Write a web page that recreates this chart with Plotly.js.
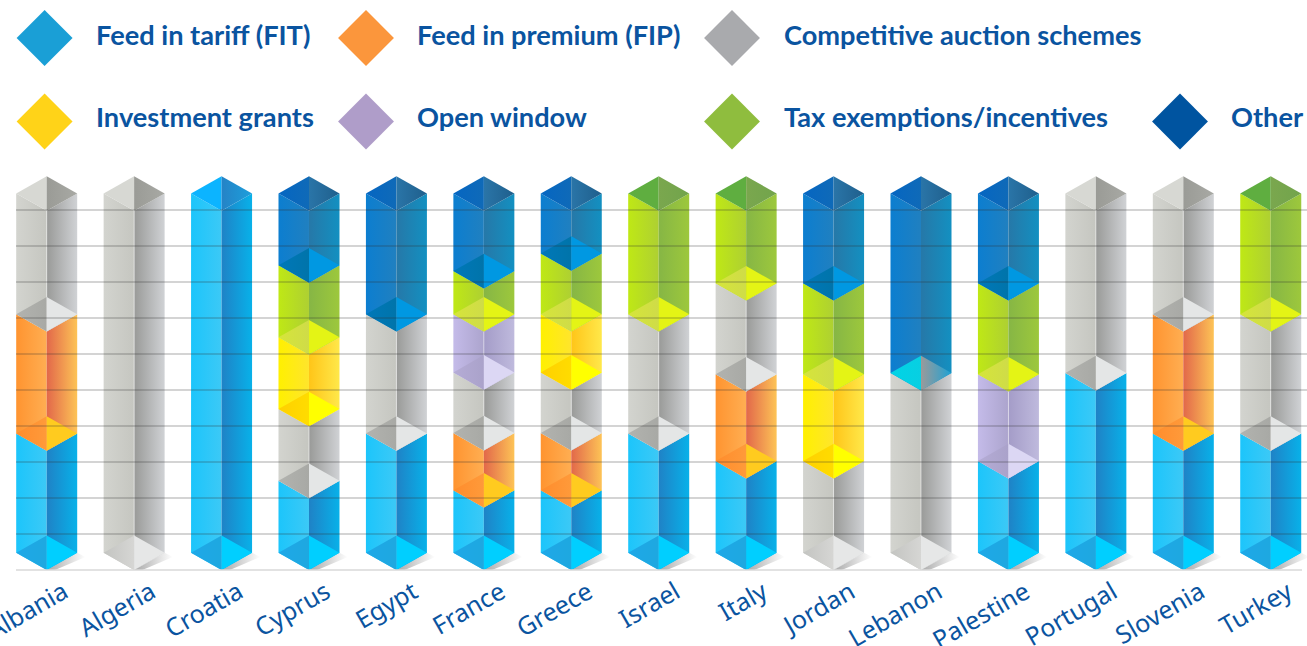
<!DOCTYPE html>
<html>
<head>
<meta charset="utf-8">
<script src="https://cdn.plot.ly/plotly-3.0.1.min.js"></script>
<style>html,body{margin:0;padding:0;background:#fff;overflow:hidden}#chart{width:1307px;height:646px}</style>
</head>
<body>
<div id="chart"></div>
<script>
// ---------- data (share of each support scheme) ----------
const categories = ["Albania","Algeria","Croatia","Cyprus","Egypt","France","Greece","Israel","Italy","Jordan","Lebanon","Palestine","Portugal","Slovenia","Turkey"];
const schemeNames = ["Feed in tariff (FIT)","Feed in premium (FIP)","Competitive auction schemes","Investment grants","Open window","Tax exemptions/incentives","Other"];
const fit        = [33.2,0,100,20,33.2,17.4,17.4,33.2,25.5,0,0,25.5,50,33.2,33.2];
const fip        = [33.2,0,0,0,0,15.9,15.9,0,24.2,0,0,0,0,33.2,0];
const auction    = [33.6,100,0,20,33.2,16.9,16.9,33.2,25.3,25.5,50,0,50,33.6,33.2];
const investment = [0,0,0,20,0,0,16.2,0,0,24.2,0,0,0,0,0];
const openWindow = [0,0,0,0,0,16.2,0,0,0,0,0,24.2,0,0,0];
const tax        = [0,0,0,20,0,12,16.9,33.6,25,25.3,0,25.3,0,0,33.6];
const other      = [0,0,0,20,33.6,21.6,16.7,0,0,25,50,25,0,0,0];
const gridPixels = [210,246,282,318,354,390,426,462,498,534];

// ---------- styles ----------
const legendColors = ["#1a9fd6","#fb963c","#a9aaad","#ffd318","#af9dc9","#8fbd3e","#0054a0"];
const styles = [
 {L:["#1cc5fb","#3cc9f6"],R:["#1f82c6","#08b1e9"],fL:["#1ea8e8","#1ea8e0"],fR:["#00cfff","#00cfff"],rL:["#0cb4ff","#0cb4ff"],rR:["#2583c6","#1c9fdc"]},
 {L:["#ff9430","#ffae52"],R:["#e2684a","#fdc356"],fL:["#ff8c2c","#ff9a3a"],fR:["#ffcb1f","#ffcb1f"],rL:["#ff8c2c","#ff8c2c"],rR:["#e2684a","#fdc356"]},
 {L:["#d3d4cf","#c5c6c0"],R:["#999a98","#d0d2d5"],fL:["#b2b3af","#a8a9a5"],fR:["#e4e6e6","#e4e6e6"],rL:["#d7d8d3","#d7d8d3"],rR:["#9a9b96","#a8a9a4"],seam:"rgba(255,255,255,0.55)"},
 {L:["#fff000","#ffe52c"],R:["#ffc518","#ffe84a"],fL:["#ffd000","#ffdc00"],fR:["#ffff00","#ffff00"],rL:["#ffd000","#ffd000"],rR:["#ffc518","#ffc518"]},
 {L:["#c4bbe9","#aca4cd"],R:["#a49cc8","#bfbadd"],fL:["#b5acd6","#aaa2ca"],fR:["#dcd7f4","#dcd7f4"],rL:["#b5acd6","#b5acd6"],rR:["#a49cc8","#a49cc8"],seam:"rgba(255,255,255,0.45)"},
 {L:["#bfe815","#aed032"],R:["#86b645","#9dc83c"],fL:["#d6e53a","#cfdc48"],fR:["#e4f415","#e4f415"],rL:["#5fae40","#5fae40"],rR:["#7aa74e","#72a44c"]},
 {L:["#0c7ed0","#2080c0"],R:["#2678a8","#1390c1"],fL:["#0078b9","#0074aa"],fR:["#0098e2","#0098e2"],rL:["#0566c2","#0f6ab8"],rR:["#2a75a8","#1f5f8c"]}
];
const baseAuctionFloor = {fL:["#c3c4c1","#d6d6d4"],fR:["#e6e7e7","#e6e7e7"]};
const lebanonFloor = {fL:["#00d4e6","#08cfe2"],fR:["#9a9a9a","#1ea2d4"]};

// ---------- full-canvas scales: pixel helpers only place the layout ----------
const W = 1307, H = 646, cx0 = 46.7, stepX = 87.43, y0 = 552.7, unit = 3.592;
const xRange = [-cx0/stepX, (W-cx0)/stepX];
const yRange = [(y0-H)/unit, y0/unit];
const pxX = p => (p-cx0)/stepX;
const pxY = p => (y0-p)/unit;
const hw = 30.5/stepX, d = 17.3/unit;

const series = [fit,fip,auction,investment,openWindow,tax,other];
const traces = [];
function poly(xs, ys, c){
  const t = {type:"scatter",mode:"lines",x:xs.concat(xs[0]),y:ys.concat(ys[0]),fill:"toself",
    line:{width:0,color:"rgba(0,0,0,0)"},hoverinfo:"skip",showlegend:false};
  if (c[0]===c[1]) t.fillcolor=c[0];
  else { t.fillcolor=c[0]; t.fillgradient={type:"horizontal",colorscale:[[0,c[0]],[1,c[1]]]}; }
  traces.push(t);
}
function diamond(i, v, cl, cr){
  poly([i-hw,i,i],[v,v+d,v-d],cl);
  poly([i,i+hw,i],[v+d,v,v-d],cr);
}
categories.forEach((name,i)=>{
  // ground shadow
  const sx = 8.3/stepX, sy = 4.3/unit;
  poly([i,i+hw,i+hw+sx,i+sx],[-d,0,-sy,-d],["#a9a9a9","#ffffff"]);
  let v = 0, segs = [];
  series.forEach((arr,s)=>{ if(arr[i]>0){ segs.push({s,lo:v,hi:v+arr[i]}); v+=arr[i]; } });
  segs.forEach(g=>{
    const st = styles[g.s];
    poly([i-hw,i,i,i-hw],[g.lo,g.lo-d,g.hi-d,g.hi],st.L);
    poly([i,i+hw,i+hw,i],[g.lo-d,g.lo,g.hi,g.hi-d],st.R);
    if (st.seam) traces.push({type:"scatter",mode:"lines",x:[i,i],y:[g.lo-d,g.hi-d],
      line:{color:st.seam,width:1},hoverinfo:"skip",showlegend:false});
  });
  segs.forEach((g,k)=>{
    let st = styles[g.s];
    if (k===0 && g.s===2) st = baseAuctionFloor;
    if (name==="Lebanon" && g.s===6) st = lebanonFloor;
    diamond(i,g.lo,st.fL,st.fR);
    if (k===segs.length-1) diamond(i,g.hi,styles[g.s].rL,styles[g.s].rR);
  });
});
// gridlines over the prisms
const gx=[],gy=[];
gridPixels.forEach(p=>{gx.push(pxX(16),pxX(W),null);gy.push(pxY(p),pxY(p),null);});
traces.push({type:"scatter",mode:"lines",x:gx,y:gy,line:{color:"rgba(50,50,50,0.28)",width:1.5},hoverinfo:"skip",showlegend:false});
traces.push({type:"scatter",mode:"lines",x:[pxX(16),pxX(1302)],y:[pxY(570),pxY(570)],line:{color:"#d8d8d8",width:1.5},hoverinfo:"skip",showlegend:false});

// legend
const legendX = [44.6,366,732,44.6,366,732,1180];
const legendY = [38,38,38,121.5,121.5,121.5,121.5];
const textX = [93.5,414.5,781.5,93.5,414.5,781.5,1228.5];
const textY = [35,35,35,117,117,117,117];
traces.push({type:"scatter",mode:"markers",x:legendX.map(pxX),y:legendY.map(pxY),text:schemeNames,hoverinfo:"text",
  marker:{symbol:"diamond",size:43,color:legendColors,line:{width:0}},showlegend:false,cliponaxis:false});
const annotations = schemeNames.map((n,k)=>({xref:"paper",yref:"paper",x:textX[k]/W,y:1-textY[k]/H,text:"<b>"+n+"</b>",
  showarrow:false,xanchor:"left",yanchor:"middle",font:{family:"Lato, sans-serif",size:27.2,color:"#0a54a0"}}));

Plotly.newPlot("chart",traces,{
  width:W,height:H,margin:{l:0,r:0,t:0,b:0},paper_bgcolor:"#fff",plot_bgcolor:"#fff",showlegend:false,
  annotations,
  xaxis:{range:xRange,tickmode:"array",tickvals:categories.map((c,i)=>i),ticktext:categories,tickangle:-30,
    tickfont:{family:"'Noto Sans', sans-serif",size:25,color:"#0a54a0"},showgrid:false,zeroline:false,showline:false,ticks:"",
    anchor:"free",position:(H-570)/H,ticklabeloverflow:"allow",ticklabelshift:17,ticklabelstandoff:2,fixedrange:true},
  yaxis:{range:yRange,showgrid:false,zeroline:false,showticklabels:false,ticks:"",fixedrange:true}
},{displayModeBar:false,staticPlot:true});
</script>
</body>
</html>
